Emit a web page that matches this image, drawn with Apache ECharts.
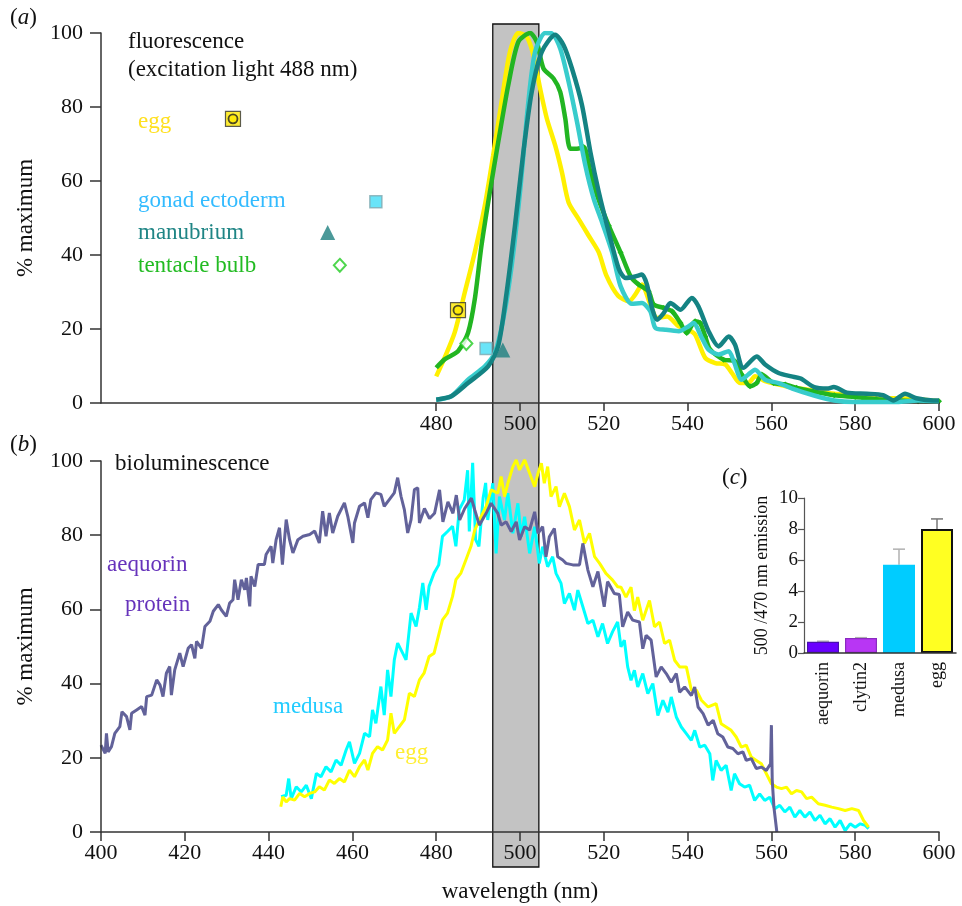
<!DOCTYPE html>
<html>
<head>
<meta charset="utf-8">
<script src="https://cdn.jsdelivr.net/npm/echarts@6/dist/echarts.min.js"></script>
<style>html,body{margin:0;padding:0;background:#fff}#c{width:962px;height:906px}</style>
</head>
<body>
<div id="c"></div>
<script>
// ---------- Panel (a) fluorescence ----------
const fluorEgg = [[480,7.2],[482,12.2],[484.4,19],[486.8,29.8],[489.2,40.7],[491.6,53.3],[493.6,66.9],[495.6,81.4],[497.6,94.9],[499.6,100],[501.6,99],[503.2,94],[504.8,85],[506.4,76.9],[508.4,69.6],[510,62.4],[511.6,54.2],[514,49.7],[516.4,45.2],[518.8,40.7],[520.6,34.5],[523.4,29],[526,27.5],[527.5,29.3],[529.1,32],[531.1,26.6],[532.7,23],[535.1,23.4],[537.9,20.7],[540.2,19.8],[541.8,18.5],[544.2,12.2],[546.6,10.8],[549,10.4],[550.6,8.1],[552.5,5.4],[554.5,5.4],[556.1,7.2],[558.5,5.9],[561.7,5],[565,4.2],[570,3.4],[575,2.5],[580,2.1],[585,1.3],[590,1.3],[595,1],[600,0.5]];
const fluorTentacle = [[480,9.5],[482,11.8],[485.2,14],[487.6,19],[489.2,28],[490.8,42.5],[492.8,57],[494.8,70.5],[497.2,85.9],[499.6,97.6],[502.4,100],[504,97.6],[505.6,90.4],[508,87.7],[509.6,84.1],[510.8,76.9],[512,68.7],[513.6,68.7],[515.2,69.2],[516.8,62.4],[518.4,56.1],[521.2,47.9],[524,40.7],[526.5,34],[528.3,32],[530.7,30.2],[531.9,26.6],[534.3,25.7],[536.3,24.8],[538.3,21.6],[539.8,18.9],[541.8,22.1],[543,21.6],[544.2,18],[545.4,14.4],[548.6,11.7],[551.3,11.3],[552.9,7.7],[554.9,4.5],[556.5,5.4],[557.7,7.7],[560.5,5.4],[563.3,5],[566,4.1],[570,3.1],[575,2.1],[580,1.6],[585,1],[590,0.7],[595,0.5],[600,0.5]];
const fluorGonad = [[480,0.9],[483.6,1.8],[487.6,6.3],[491.6,9.9],[494,13.6],[496,22.6],[498,37],[500,57],[502,81.4],[503.6,94.9],[506,100],[507.6,99.9],[509.6,95.8],[511.6,86.8],[513.6,76],[515.6,64.2],[517.6,55.2],[519.6,48.8],[522,40.7],[524,31.6],[526.7,26.8],[529.1,27],[531.1,24.8],[532.3,20.3],[534.7,19.8],[537.9,19.4],[540.2,20.7],[541.4,21.6],[543.4,17.6],[545,14.4],[547.4,13.1],[549.8,14],[551,11.3],[552.9,6.3],[554.5,7.7],[556.1,9],[558.5,6.3],[561.7,5.4],[565,3.9],[570,2.1],[575,0.7],[580,0.3],[585,0.3],[590,0.3],[595,0.7],[600,0.5]];
const fluorManubrium = [[480,0.9],[483.6,1.8],[487.6,5.4],[492.4,9.9],[494.8,15.4],[496.8,29.8],[498.8,47.9],[500.8,67.8],[502.8,84.1],[505.2,94.9],[508.4,99.5],[510.4,96.7],[512.4,90.4],[514.8,80.5],[516.8,67.8],[518.8,57],[521.2,46.1],[523.6,36.2],[525.2,33.8],[527.5,34.2],[529.1,34.7],[530.3,32],[531.5,25.7],[532.7,22.5],[534.3,24.3],[535.9,27],[538.3,25.2],[541,28.4],[542.6,26.1],[545,19.4],[547.4,15.3],[549.8,18],[551.3,15.8],[553.3,9.5],[556.5,12.6],[558.5,10.4],[561.7,8.1],[564.8,7.2],[567,6.6],[570.2,4.3],[573.3,3.9],[574.9,4.3],[578,2.8],[582.8,2.5],[586.7,2.1],[589.1,0.7],[591.9,2.5],[594.6,1.3],[598.6,0.7],[600,0.7]];
const markEgg = [[431.5,76.8],[485.2,25.1]];
const markGonad = [[465.6,54.4],[491.9,14.7]];
const markManubrium = [[454.1,46.1],[495.9,14.3]];
const markTentacle = [[457,37.2],[487.2,16.1]];
const fluorTicks = [480,500,520,540,560,580,600];

// ---------- Panel (b) bioluminescence ----------
const bioAequorin = [[400,23.4],[401,21.2],[401.3,26.6],[401.7,21.6],[402.5,23],[403.3,26.6],[404.5,28.4],[405,32.4],[406.1,31.1],[406.9,27.5],[407.3,32],[408.5,32.9],[409.7,33.8],[410.5,31.5],[410.9,36.5],[412.1,36.9],[413.3,41],[414.1,39.6],[414.8,36.5],[415.6,42.8],[416.4,44.6],[416.8,36.9],[417.6,43.7],[418.8,48.2],[419.6,44.6],[420.8,49.5],[421.6,50.5],[422.4,46.8],[422.8,51.4],[424,49.5],[424.8,55.4],[426,56.8],[426.8,59.5],[428,61.3],[428.7,59.9],[429.9,58.1],[430.7,61.7],[431.5,62.6],[431.9,68],[432.7,62.6],[433.5,68],[434.3,65.3],[434.7,68.5],[435.5,60.8],[435.8,68.9],[436.7,66.2],[437.5,72.1],[439,72.1],[439.4,74.8],[440.6,77],[441,72.5],[441.8,78.8],[442.6,82],[443.3,72.1],[444.2,84.2],[445,78.8],[445.8,75.2],[447,78.8],[448.2,79.7],[449.8,80.2],[451,81.1],[452.1,77.9],[452.9,86.5],[453.7,79.7],[454.5,86],[455.3,80.6],[456.5,85.1],[458.1,88.7],[458.9,85.1],[460.1,77.9],[460.5,83.3],[461.7,87.8],[462.9,88.7],[463.7,84.7],[464.4,89.6],[465.6,91.4],[466.8,91],[467.6,87.8],[468.8,89.6],[470,91.4],[470.8,95.5],[471.6,90.5],[472.4,86.9],[473.2,80.6],[474,84.2],[474.8,92.3],[475.6,92.8],[476,83.3],[477.2,87.2],[478.4,84.5],[479.6,85.9],[480.8,92.2],[481.6,83.6],[482.8,89],[484,85.9],[484.8,90.8],[485.6,84.1],[486.8,87.2],[488.4,90],[489.2,86.8],[490.3,82.7],[491.9,85.9],[493.1,88.6],[494.7,85.9],[495.5,82.7],[496.7,83.6],[497.9,81],[499.1,83.6],[499.9,78.7],[501.1,82.3],[502.3,81.4],[503.5,86.3],[504.3,80.5],[505.4,82.3],[506.2,74.2],[507,79.6],[508.2,81.8],[509,74.2],[510.2,73.3],[511,72.4],[512.6,72],[514.2,72],[515,77.8],[516.2,70.6],[517.4,66.1],[518.6,70.2],[520.1,60.7],[520.9,67.5],[522.5,64.3],[523.7,64],[524.5,55.3],[525.7,59.3],[526.9,57.1],[528.5,56.6],[529.3,49.4],[530.1,53],[531.3,51.7],[532.5,41.8],[533.7,44.5],[534.9,42.7],[536.1,40.4],[537.3,42.7],[538.1,37.7],[539.3,39.1],[540.9,36.8],[541.7,39.1],[542.5,33.7],[543.7,31.9],[544.9,28.8],[546.1,30.1],[547.2,26.5],[548.4,25.6],[549.6,22.9],[550.8,22.5],[552,21.1],[553.2,21.6],[554,19.3],[555.2,19.8],[556.4,17.1],[557.6,17.5],[558.8,16.6],[559.8,18.4],[560,28.8],[560.2,14],[560.6,6.7],[561.3,0]];
const bioMedusa = [[443,9.5],[444.2,9.9],[444.8,14.4],[445.4,9],[446.6,12.2],[447.8,10.8],[449,12.6],[450.2,9],[451.4,15.8],[452.5,14.9],[453.7,17.6],[454.9,16.2],[456.1,19.4],[457.3,18],[458.5,22.1],[459.3,24.3],[460.5,18.5],[461.7,21.2],[462.9,26.6],[464.1,25.7],[464.8,32.9],[465.6,29.3],[466.8,39.2],[467.6,31.5],[468.4,43.7],[469.2,36.5],[470,46.4],[470.8,50.9],[472,48.2],[472.8,46.4],[474,59],[475.2,55.4],[476,60.5],[476.8,67.1],[477.6,59.9],[478.3,66.2],[479.5,69.8],[480.6,72],[481.5,79.7],[482.7,81],[483.9,82.4],[484.7,77],[485.5,86.9],[486.7,89.5],[487.5,97.5],[487.9,81],[488.7,99.5],[489.4,78.8],[490.2,77],[491.2,90],[491.8,94.1],[492.3,84.1],[493.5,94],[494.3,75.1],[495.1,90.4],[496.3,84.1],[497.1,91.3],[498.3,80.5],[499.5,88.6],[500.3,79.6],[501.1,85],[502.3,75.1],[503.5,82.3],[504.6,72.4],[505.4,76.9],[506.6,71.5],[507.8,74.2],[508.6,69.7],[509.8,67],[510.6,61.6],[511.8,64.3],[513,59.8],[513.8,65.2],[515,60.7],[516.2,56.2],[517.4,57.1],[518.6,52.6],[519.7,56.2],[520.9,50.8],[522.1,54],[523.3,56.6],[524.1,49.9],[524.9,51.7],[525.7,44.5],[526.5,40.9],[527.3,43.6],[528.1,39.1],[529.3,42.7],[530.5,37.3],[531.7,40],[532.9,31.4],[534.1,35.5],[535.3,32.3],[536.1,36.4],[537.3,31],[538.5,28.3],[539.7,26.5],[540.9,24.7],[541.7,27.4],[542.9,22.9],[544.1,23.4],[545.3,21.1],[546,13.9],[546.8,19.3],[548,16.6],[549.2,18],[550.4,11.2],[551.2,15.7],[552.4,13],[553.6,12.1],[554.8,12.6],[556,8.5],[557.2,10.3],[558.4,8.5],[559.6,9.4],[560.8,6.3],[562,7.2],[563.2,5.4],[564.4,6.7],[565.6,4],[566.8,5.8],[568,4],[569.2,5.4],[570.4,3.1],[571.6,4.5],[572.8,2.2],[574,3.6],[575.2,1.3],[576.4,3.1],[577.6,0.4],[578.8,2.2],[580,1.3],[581.2,2.2],[582.4,1.8],[583.2,0.9]];
const bioEgg = [[442.9,6.8],[443.4,9.5],[444.2,8.1],[445,9],[446.2,8.6],[447.4,10.4],[448.6,9.5],[449.8,10.4],[451,10.8],[452.1,12.2],[453.3,11.3],[454.5,14],[455.7,13.1],[456.9,14.4],[458.1,13.5],[459.3,16.7],[460.5,14.9],[461.7,17.6],[462.9,19.4],[463.7,16.7],[464.8,21.2],[466,23],[467.2,22.1],[468.4,24.8],[469.2,32],[470,26.6],[471.2,28.4],[472.4,30.2],[473.6,37.4],[474.8,36.5],[476,41],[477.1,42.8],[478.3,47.3],[479.5,48.2],[480.7,53.6],[481.5,57.2],[482.7,59],[483.9,63.5],[484.7,68],[485.9,69.8],[487.1,73.4],[488.3,77],[489.2,81.4],[490.3,84.1],[491.9,87.7],[493.1,92.2],[494.7,91.3],[495.5,95.8],[496.3,90.4],[497.1,94],[498.3,98.5],[499.1,100.3],[499.9,97.6],[501.1,100.3],[502.3,96.7],[503.5,93.1],[504.3,96.7],[505.1,99.4],[505.8,94],[506.6,98.5],[507.4,90.4],[508.6,93.1],[509.4,87.7],[510.6,91.3],[511.8,87.7],[513,81.4],[514.2,84.1],[515.4,77.8],[516.6,80.5],[517.8,74.2],[519,72.4],[520.5,69.7],[522.1,67.9],[523.3,66.1],[524.1,66],[525.3,63.3],[526.5,66],[527.3,59.7],[528.1,63.3],[529.3,57.1],[530.9,62.4],[532.1,55.3],[533.3,56.6],[534.5,50.8],[535.7,51.7],[536.9,46.3],[538.1,44.5],[539.7,44.5],[540.9,38.2],[542.1,38.2],[543.3,35.5],[544.9,33.7],[546.8,34.6],[548,29.2],[549.2,28.3],[550.4,27.4],[551.6,25.6],[552.8,22.9],[554,23.4],[555.2,20.2],[556.4,19.3],[557.6,18.4],[558.8,15.7],[560,13],[561.2,12.1],[562.4,11.7],[563.6,12.1],[564.8,10.3],[566,11.2],[567.2,10.8],[568.4,9],[569.6,9.4],[571.2,7.6],[572.8,7.2],[574.4,6.7],[576,6.3],[577.6,5.8],[579.2,6.3],[580.8,5.8],[582,3.1],[583.2,1.3]];

// ---------- shaded band (nm) ----------
const bandRange = [493.5, 504.5];

// ---------- Panel (c) ratio bars ----------
const barCats = ['aequorin', 'clytin2', 'medusa', 'egg'];
const barValues = [0.72, 0.97, 5.7, 8.0];
const barErrTop = [0.76, 0.99, 6.7, 8.65];

const SERIF = 'Liberation Serif';
const chart = echarts.init(document.getElementById('c'), null, {renderer: 'canvas'});

const axisLine = {show: true, lineStyle: {color: '#333', width: 1.5}};
const tickOut = (len) => ({show: true, inside: false, length: len, lineStyle: {color: '#333', width: 1.5}});
const labelStyle = (size, margin) => ({color: '#111', fontFamily: SERIF, fontSize: size, margin: margin});

function txt(text, x, y, color, size, extra) {
  return Object.assign({
    type: 'text', x: x, y: y, z: 10,
    style: {text: text, fill: color || '#111', font: (size || 23) + 'px "' + SERIF + '"', verticalAlign: 'middle', align: 'left'}
  }, extra || {});
}
function paren(letter, x, y) {
  return {
    type: 'text', x: x, y: y, z: 10,
    style: {
      text: '{n|(}{i|' + letter + '}{n|)}', verticalAlign: 'middle', align: 'left',
      rich: {
        n: {fontFamily: SERIF, fontSize: 23, fill: '#111', color: '#111'},
        i: {fontFamily: SERIF, fontSize: 23, fontStyle: 'italic', fill: '#111', color: '#111'}
      }
    }
  };
}

const option = {
  animation: false,
  backgroundColor: '#fff',
  textStyle: {fontFamily: SERIF},
  grid: [
    {left: 101, top: 33, width: 838, height: 370},
    {left: 101, top: 461, width: 838, height: 371},
    {left: 101, top: 24, width: 838, height: 843},
    {left: 804, top: 498, width: 152, height: 155}
  ],
  xAxis: [
    {gridIndex: 0, type: 'value', min: 400, max: 600, z: 5,
      axisLine: axisLine, splitLine: {show: false},
      axisTick: Object.assign(tickOut(8), {customValues: fluorTicks}),
      axisLabel: Object.assign(labelStyle(22, 10), {customValues: fluorTicks})},
    {gridIndex: 1, type: 'value', min: 400, max: 600, interval: 20, z: 5,
      axisLine: axisLine, splitLine: {show: false}, axisTick: tickOut(9),
      axisLabel: labelStyle(22, 10),
      name: 'wavelength (nm)', nameLocation: 'middle', nameGap: 48,
      nameTextStyle: {color: '#111', fontFamily: SERIF, fontSize: 23}},
    {gridIndex: 2, type: 'value', min: 400, max: 600, show: false},
    {gridIndex: 3, type: 'category', data: barCats, z: 5,
      axisLine: axisLine, axisTick: {show: false},
      axisLabel: {rotate: 90, color: '#111', fontFamily: SERIF, fontSize: 18, margin: 9}}
  ],
  yAxis: [
    {gridIndex: 0, type: 'value', min: 0, max: 100, interval: 20, z: 5,
      axisLine: axisLine, splitLine: {show: false}, axisTick: tickOut(11),
      axisLabel: labelStyle(22, 18),
      name: '% maximum', nameLocation: 'middle', nameGap: 64,
      nameTextStyle: {color: '#111', fontFamily: SERIF, fontSize: 23}},
    {gridIndex: 1, type: 'value', min: 0, max: 100, interval: 20, z: 5,
      axisLine: axisLine, splitLine: {show: false}, axisTick: tickOut(11),
      axisLabel: labelStyle(22, 18),
      name: '% maximum', nameLocation: 'middle', nameGap: 64,
      nameTextStyle: {color: '#111', fontFamily: SERIF, fontSize: 23}},
    {gridIndex: 2, type: 'value', min: 0, max: 1, show: false},
    {gridIndex: 3, type: 'value', min: 0, max: 10, interval: 2, z: 5,
      axisLine: {show: true, lineStyle: {color: '#555', width: 1.2}}, splitLine: {show: false},
      axisTick: {show: true, length: 6, lineStyle: {color: '#555', width: 1.2}},
      axisLabel: labelStyle(19, 6),
      name: '500 /470 nm emission', nameLocation: 'middle', nameGap: 33,
      nameTextStyle: {color: '#111', fontFamily: SERIF, fontSize: 18}}
  ],
  series: [
    // grey band spanning both panels
    {type: 'line', xAxisIndex: 2, yAxisIndex: 2, data: [], z: 0, silent: true,
      markArea: {silent: true, z: 0,
        itemStyle: {color: '#c3c3c3', borderColor: '#111', borderWidth: 1.3, opacity: 1},
        data: [[{xAxis: bandRange[0], yAxis: 0}, {xAxis: bandRange[1], yAxis: 1}]]}},
    // panel a curves
    {name: 'egg', type: 'line', xAxisIndex: 0, yAxisIndex: 0, data: fluorEgg, smooth: 0.25, showSymbol: false,
      lineStyle: {color: '#fff000', width: 4.5}, z: 3},
    {name: 'tentacle bulb', type: 'line', xAxisIndex: 0, yAxisIndex: 0, data: fluorTentacle, smooth: 0.25,
      showSymbol: true, showAllSymbol: true, symbol: 'diamond',
      symbolSize: (v) => (v[0] >= 514 ? 6 : 0),
      itemStyle: {color: '#1db81d'},
      lineStyle: {color: '#22b522', width: 4.5}, z: 4},
    {name: 'gonad ectoderm', type: 'line', xAxisIndex: 0, yAxisIndex: 0, data: fluorGonad, smooth: 0.25, showSymbol: false,
      lineStyle: {color: '#38cccc', width: 4.5}, z: 5},
    {name: 'manubrium', type: 'line', xAxisIndex: 0, yAxisIndex: 0, data: fluorManubrium, smooth: 0.25, showSymbol: false,
      lineStyle: {color: '#148383', width: 4.5}, z: 6},
    // panel a markers
    {type: 'scatter', xAxisIndex: 0, yAxisIndex: 0, data: markEgg, symbol: 'rect', symbolSize: 15, z: 8,
      itemStyle: {color: '#ffe800', borderColor: '#333', borderWidth: 1.2}},
    {type: 'scatter', xAxisIndex: 0, yAxisIndex: 0, data: markEgg, symbol: 'circle', symbolSize: 9, z: 9,
      itemStyle: {color: '#ffe800', borderColor: '#222', borderWidth: 1.8}},
    {type: 'scatter', xAxisIndex: 0, yAxisIndex: 0, data: markGonad, symbol: 'rect', symbolSize: 12, z: 8,
      itemStyle: {color: '#44ddf6', borderColor: '#7fa9b0', borderWidth: 1.5}},
    {type: 'scatter', xAxisIndex: 0, yAxisIndex: 0, data: markManubrium, symbol: 'triangle', symbolSize: 15, z: 8,
      itemStyle: {color: '#1e8080'}},
    {type: 'scatter', xAxisIndex: 0, yAxisIndex: 0, data: markTentacle, symbol: 'diamond', symbolSize: [12, 13], z: 8,
      itemStyle: {color: '#fff', borderColor: '#22cc22', borderWidth: 2}},
    // panel b curves
    {name: 'aequorin protein', type: 'line', xAxisIndex: 1, yAxisIndex: 1, data: bioAequorin, showSymbol: false, clip: false,
      lineStyle: {color: '#62629a', width: 3}, z: 3},
    {name: 'medusa', type: 'line', xAxisIndex: 1, yAxisIndex: 1, data: bioMedusa, showSymbol: false, clip: false,
      lineStyle: {color: '#00ffff', width: 3}, z: 2},
    {name: 'egg b', type: 'line', xAxisIndex: 1, yAxisIndex: 1, data: bioEgg, showSymbol: false, clip: false,
      lineStyle: {color: '#ffff00', width: 3}, z: 2},
    // panel c bars
    {type: 'bar', xAxisIndex: 3, yAxisIndex: 3, barWidth: 32, z: 3,
      data: [
        {value: barValues[0], itemStyle: {color: '#6a00ff', borderColor: '#4a10b0', borderWidth: 1.2}},
        {value: barValues[1], itemStyle: {color: '#b836f4', borderColor: '#8a2ac0', borderWidth: 1.2}},
        {value: barValues[2], itemStyle: {color: '#00ccff', borderColor: '#00ccff', borderWidth: 0}},
        {value: barValues[3], itemStyle: {color: '#ffff22', borderColor: '#111', borderWidth: 2}}
      ]},
    {type: 'custom', xAxisIndex: 3, yAxisIndex: 3, z: 2,
      data: barCats.map((c, i) => [i, barValues[i], barErrTop[i]]),
      encode: {x: 0, y: 2},
      renderItem: function (params, api) {
        const i = api.value(0);
        const base = api.coord([i, api.value(1)]);
        const top = api.coord([i, api.value(2)]);
        const col = i === 3 ? '#777' : '#b0b0b0';
        return {type: 'group', children: [
          {type: 'line', shape: {x1: base[0], y1: base[1], x2: top[0], y2: top[1]}, style: {stroke: col, lineWidth: 1.5}},
          {type: 'line', shape: {x1: top[0] - 6, y1: top[1], x2: top[0] + 6, y2: top[1]}, style: {stroke: col, lineWidth: 1.5}}
        ]};
      }}
  ],
  graphic: [
    paren('a', 10, 18),
    txt('fluorescence', 128, 42),
    txt('(excitation light 488 nm)', 128, 70),
    txt('egg', 138, 122, '#ffe020'),
    txt('gonad ectoderm', 138, 201, '#33bbff'),
    txt('manubrium', 138, 233, '#1f8585'),
    txt('tentacle bulb', 138, 266, '#22bb22'),
    paren('b', 10, 445),
    txt('bioluminescence', 115, 464),
    txt('aequorin', 107, 565, '#6633bb'),
    txt('protein', 125, 605, '#6633bb'),
    txt('medusa', 273, 707, '#22ccff'),
    txt('egg', 395, 753, '#ffee33'),
    paren('c', 722, 478)
  ]
};
chart.setOption(option);
</script>
</body>
</html>
